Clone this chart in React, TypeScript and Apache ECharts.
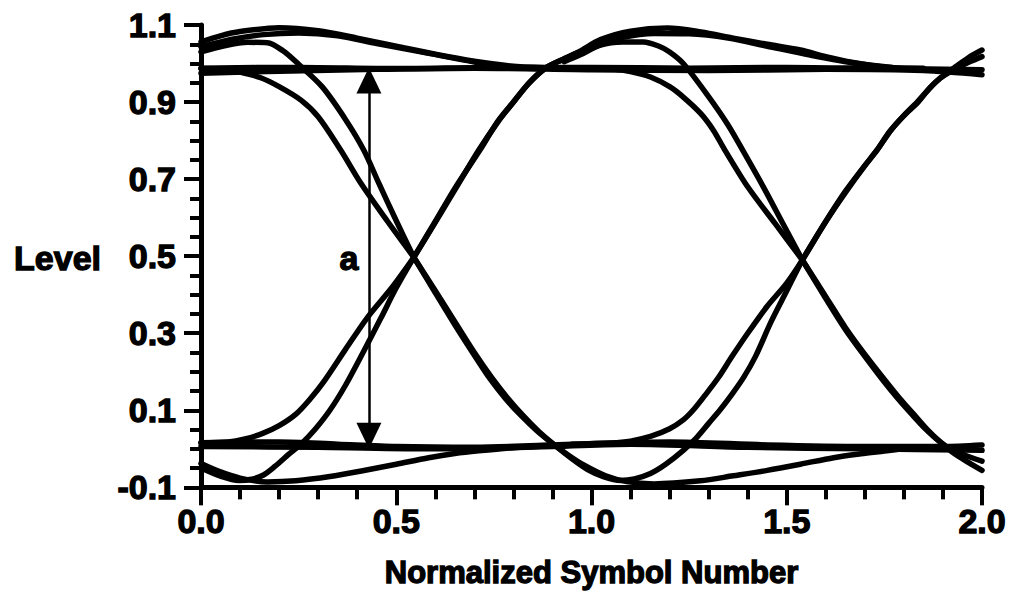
import React, { useEffect, useRef } from "react";
import * as echarts from "echarts";

type Pt = [number, number];

// Axis ranges and ticks
const xRange: [number, number] = [0, 2];
const yRange: [number, number] = [-0.1, 1.1];
const xStep = 0.5;
const yStep = 0.2;

// Steady logic levels
const highLevelA: Pt[] = [[0, 0.988], [0.25, 0.99], [0.5, 0.987], [0.75, 0.99], [1.0, 0.99], [1.25, 0.988], [1.5, 0.99], [1.75, 0.987], [2.0, 0.984]];
const highLevelB: Pt[] = [[0, 0.975], [0.2, 0.98], [0.45, 0.985], [0.7, 0.988], [1.0, 0.984], [1.3, 0.982], [1.6, 0.985], [1.85, 0.982], [2.0, 0.971]];
const lowLevelA: Pt[] = [[0, 0.016], [0.2, 0.018], [0.35, 0.012], [0.5, 0.006], [0.7, 0.004], [0.95, 0.012], [1.2, 0.018], [1.45, 0.01], [1.7, 0.006], [1.9, 0.006], [2.0, 0.01]];
const lowLevelB: Pt[] = [[0, 0.006], [0.3, 0.004], [0.6, 0.0], [0.9, 0.006], [1.1, 0.012], [1.4, 0.004], [1.7, 0.0], [2.0, -0.004]];

// First symbol: overshoot tails and transitions
const overshootDecay1a: Pt[] = [[0, 1.056], [0.05, 1.072], [0.1, 1.083], [0.2, 1.093], [0.3, 1.085], [0.4, 1.066], [0.5, 1.045], [0.6, 1.024], [0.7, 1.006], [0.8, 0.993], [0.9, 0.989]];
const overshootDecay1b: Pt[] = [[0, 1.043], [0.08, 1.063], [0.16, 1.075], [0.25, 1.079], [0.35, 1.072], [0.45, 1.052], [0.58, 1.027], [0.7, 1.004], [0.78, 0.992]];
const overshootFall1: Pt[] = [[0, 1.03], [0.06, 1.046], [0.12, 1.055], [0.17, 1.054], [0.21, 1.033], [0.25, 0.998], [0.31, 0.94], [0.37, 0.855], [0.417, 0.775], [0.455, 0.69], [0.5, 0.592], [0.545, 0.497]];
const levelFall1: Pt[] = [[0, 0.987], [0.06, 0.985], [0.1, 0.978], [0.153, 0.963], [0.2, 0.94], [0.256, 0.905], [0.3, 0.862], [0.358, 0.775], [0.409, 0.69], [0.478, 0.59], [0.545, 0.497]];
const levelRise1: Pt[] = [[0, 0.016], [0.07, 0.018], [0.11, 0.025], [0.158, 0.04], [0.2, 0.06], [0.243, 0.09], [0.28, 0.13], [0.315, 0.175], [0.37, 0.258], [0.427, 0.342], [0.49, 0.42], [0.545, 0.497]];
const undershootRise1: Pt[] = [[0, -0.05], [0.05, -0.071], [0.097, -0.082], [0.13, -0.079], [0.16, -0.068], [0.19, -0.045], [0.225, -0.014], [0.256, 0.012], [0.29, 0.048], [0.33, 0.1], [0.37, 0.165], [0.415, 0.25], [0.46, 0.338], [0.5, 0.418], [0.545, 0.497]];
const undershootDecay1: Pt[] = [[0, -0.038], [0.05, -0.06], [0.1, -0.076], [0.17, -0.086], [0.243, -0.083], [0.33, -0.072], [0.414, -0.057], [0.5, -0.04], [0.583, -0.023], [0.65, -0.012], [0.711, -0.005], [0.8, 0.003], [0.9, 0.008]];

// Rising edges of the first crossing running into the second symbol
const riseToOvershoot2a: Pt[] = [[0.545, 0.497], [0.6, 0.588], [0.65, 0.672], [0.711, 0.775], [0.76, 0.848], [0.798, 0.897], [0.839, 0.948], [0.882, 0.988], [0.925, 1.01], [0.967, 1.03], [1.023, 1.062], [1.1, 1.084], [1.194, 1.092], [1.28, 1.082], [1.363, 1.066], [1.45, 1.05], [1.535, 1.035], [1.6, 1.018], [1.662, 1.004], [1.747, 0.991], [1.85, 0.988]];
const riseToOvershoot2b: Pt[] = [[0.545, 0.497], [0.6, 0.59], [0.65, 0.676], [0.716, 0.778], [0.76, 0.85], [0.8, 0.9], [0.84, 0.95], [0.885, 0.99], [0.93, 1.012], [0.97, 1.03], [1.02, 1.048], [1.08, 1.068], [1.16, 1.078], [1.25, 1.077], [1.35, 1.066], [1.45, 1.045], [1.56, 1.022], [1.68, 1.0], [1.77, 0.99]];

// Falling edges of the first crossing running into the second symbol
const fallToUndershoot2a: Pt[] = [[0.545, 0.497], [0.6, 0.405], [0.65, 0.322], [0.7, 0.243], [0.74, 0.182], [0.78, 0.13], [0.82, 0.086], [0.86, 0.047], [0.9, 0.014], [0.94, -0.016], [0.98, -0.042], [1.036, -0.07], [1.09, -0.085], [1.16, -0.091], [1.279, -0.083], [1.363, -0.07], [1.45, -0.056], [1.535, -0.04], [1.62, -0.023], [1.69, -0.013], [1.75, -0.006], [1.8, 0.0], [1.9, 0.004]];
const fallToUndershoot2b: Pt[] = [[0.545, 0.497], [0.6, 0.41], [0.65, 0.33], [0.7, 0.25], [0.745, 0.184], [0.785, 0.132], [0.825, 0.086], [0.865, 0.045], [0.905, 0.01], [0.95, -0.026], [0.99, -0.054], [1.03, -0.072], [1.074, -0.082], [1.11, -0.078], [1.151, -0.064], [1.19, -0.04], [1.235, -0.004], [1.27, 0.03], [1.3, 0.066], [1.33, 0.102], [1.36, 0.142], [1.39, 0.186], [1.42, 0.24], [1.46, 0.33], [1.5, 0.41], [1.54, 0.49], [1.6, 0.59], [1.65, 0.668], [1.7, 0.735], [1.731, 0.775], [1.765, 0.825], [1.8, 0.865], [1.834, 0.9], [1.865, 0.935], [1.893, 0.962], [1.93, 0.985], [1.97, 1.005], [2.0, 1.018]];

// Second symbol transitions
const overshootFall2: Pt[] = [[0.93, 1.005], [0.97, 1.022], [1.023, 1.048], [1.08, 1.056], [1.133, 1.056], [1.17, 1.046], [1.2, 1.03], [1.235, 1.0], [1.297, 0.918], [1.35, 0.84], [1.39, 0.77], [1.44, 0.68], [1.49, 0.585], [1.54, 0.49]];
const levelFall2: Pt[] = [[0.95, 0.987], [1.06, 0.985], [1.1, 0.979], [1.151, 0.965], [1.2, 0.94], [1.235, 0.913], [1.28, 0.87], [1.312, 0.827], [1.34, 0.778], [1.4, 0.68], [1.47, 0.585], [1.54, 0.49]];
const levelRise2: Pt[] = [[0.95, 0.012], [1.05, 0.015], [1.1, 0.02], [1.151, 0.032], [1.2, 0.052], [1.235, 0.075], [1.26, 0.1], [1.29, 0.138], [1.325, 0.185], [1.36, 0.24], [1.4, 0.3], [1.45, 0.37], [1.5, 0.43], [1.54, 0.49], [1.6, 0.59], [1.65, 0.665], [1.7, 0.735], [1.731, 0.775], [1.765, 0.825], [1.8, 0.865], [1.834, 0.897], [1.865, 0.935], [1.893, 0.962], [1.93, 0.99], [1.965, 1.015], [2.0, 1.035]];
const fallEnd2a: Pt[] = [[1.54, 0.49], [1.6, 0.39], [1.65, 0.31], [1.7, 0.24], [1.745, 0.18], [1.785, 0.13], [1.82, 0.09], [1.855, 0.052], [1.89, 0.02], [1.925, -0.004], [1.96, -0.018], [2.0, -0.032]];
const fallEnd2b: Pt[] = [[1.54, 0.49], [1.6, 0.395], [1.65, 0.315], [1.7, 0.245], [1.75, 0.18], [1.79, 0.13], [1.825, 0.09], [1.86, 0.05], [1.895, 0.016], [1.93, -0.013], [1.965, -0.035], [2.0, -0.056]];

const traces: Pt[][] = [
  highLevelA, highLevelB, lowLevelA, lowLevelB,
  overshootDecay1a, overshootDecay1b, overshootFall1, levelFall1,
  levelRise1, undershootRise1, undershootDecay1,
  riseToOvershoot2a, riseToOvershoot2b, fallToUndershoot2a, fallToUndershoot2b,
  overshootFall2, levelFall2, levelRise2, fallEnd2a, fallEnd2b,
];

// Eye-opening annotation "a": arrow tips sit on the two steady levels
const openingX = 0.43;
const openingBottom = 0.0;
const openingTop = 0.99;
const openingLabel = "a";
const openingLabelPos: Pt = [0.379, 0.496];

const yName = "Level";
const xName = "Normalized Symbol Number";

const FONT = "'Liberation Sans', Arial, Helvetica, sans-serif";
const INK = "#000";
const HEAD_W = 25;
const HEAD_H = 26;

export default function App() {
  const ref = useRef<HTMLDivElement>(null);

  useEffect(() => {
    if (!ref.current) return;
    const chart = echarts.init(ref.current, undefined, { renderer: "svg" });

    const boldText = {
      color: INK,
      fontFamily: FONT,
      fontWeight: "bold" as const,
      textBorderColor: INK,
      textBorderWidth: 1.3,
    };

    const traceSeries = traces.map((pts) => ({
      type: "line" as const,
      data: pts,
      showSymbol: false,
      symbol: "none",
      smooth: 0.3,
      silent: true,
      lineStyle: { color: INK, width: 5.5, cap: "round" as const, join: "round" as const },
    }));

    const grid = { left: 201, right: 29, top: 25, bottom: 106.5 };
    // arrow heads are centred on the line ends, so pull the ends in by half a head
    const plotH = 594 - grid.top - grid.bottom;
    const headHalf = ((HEAD_H / 2) / plotH) * (yRange[1] - yRange[0]);

    chart.setOption({
      animation: false,
      backgroundColor: "#fff",
      grid: { ...grid, containLabel: false },
      xAxis: {
        type: "value",
        min: xRange[0],
        max: xRange[1],
        interval: xStep,
        name: xName,
        nameLocation: "middle",
        nameGap: 70,
        nameTextStyle: { ...boldText, fontSize: 31 },
        axisLine: { show: true, onZero: false, lineStyle: { color: INK, width: 5 } },
        axisTick: { show: true, length: 18, lineStyle: { color: INK, width: 4 } },
        minorTick: { show: true, splitNumber: 5, length: 12, lineStyle: { color: INK, width: 4 } },
        axisLabel: { ...boldText, fontSize: 34, margin: 17, formatter: (v: number) => v.toFixed(1) },
        splitLine: { show: false },
        minorSplitLine: { show: false },
      },
      yAxis: {
        type: "value",
        min: yRange[0],
        max: yRange[1],
        interval: yStep,
        axisLine: { show: true, onZero: false, lineStyle: { color: INK, width: 5 } },
        axisTick: { show: true, length: 17, lineStyle: { color: INK, width: 4 } },
        minorTick: { show: true, splitNumber: 4, length: 11, lineStyle: { color: INK, width: 4 } },
        axisLabel: { ...boldText, fontSize: 34, margin: 25, formatter: (v: number) => v.toFixed(1) },
        splitLine: { show: false },
        minorSplitLine: { show: false },
      },
      graphic: [
        {
          type: "text",
          x: 101,
          y: 258,
          style: {
            text: yName,
            fill: INK,
            stroke: INK,
            lineWidth: 1.3,
            font: `bold 34px ${FONT}`,
            textAlign: "right",
            textVerticalAlign: "middle",
          },
        },
      ],
      series: [
        ...traceSeries,
        {
          type: "line",
          data: [],
          silent: true,
          markLine: {
            silent: true,
            symbol: ["triangle", "triangle"],
            symbolSize: [HEAD_W, HEAD_H],
            label: { show: false },
            lineStyle: { color: INK, width: 2.5, type: "solid", opacity: 1 },
            itemStyle: { color: INK },
            data: [[
              { coord: [openingX, openingBottom + headHalf] },
              { coord: [openingX, openingTop - headHalf] },
            ]],
          },
        },
        {
          type: "scatter",
          data: [openingLabelPos],
          symbol: "circle",
          symbolSize: 0,
          silent: true,
          itemStyle: { color: INK, opacity: 1 },
          label: {
            show: true,
            position: "inside",
            formatter: openingLabel,
            ...boldText,
            fontSize: 34,
            opacity: 1,
          },
        },
      ],
    });

    return () => chart.dispose();
  }, []);

  return (
    <div
      ref={ref}
      style={{ position: "fixed", left: 0, top: 0, width: 1011, height: 594, background: "#fff" }}
    />
  );
}
